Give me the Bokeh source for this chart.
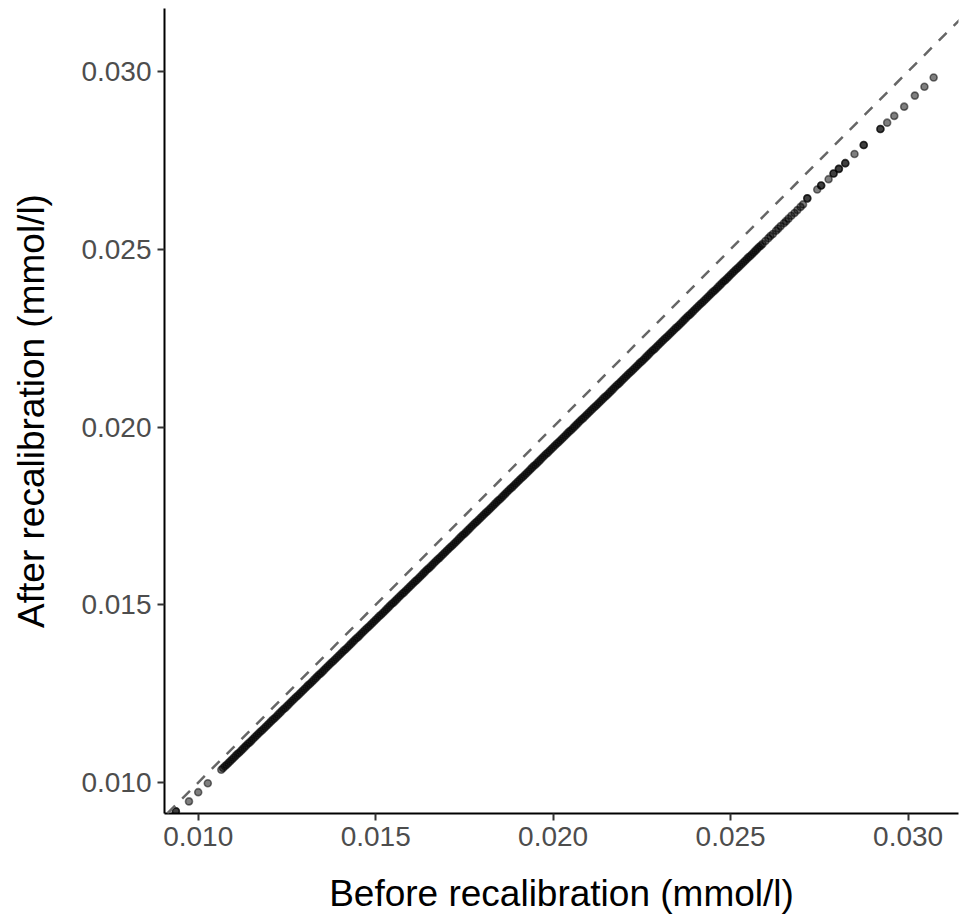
from bokeh.plotting import figure
from bokeh.models import Range1d, Slope, FixedTicker, ColumnDataSource
from bokeh.embed import file_html
from bokeh.resources import INLINE

x_title = "Before recalibration (mmol/l)"
y_title = "After recalibration (mmol/l)"
tick_values = [0.010, 0.015, 0.020, 0.025, 0.030]
tick_labels = ["0.010", "0.015", "0.020", "0.025", "0.030"]

# sparse points at the low end
low_before = [0.00925, 0.00937, 0.00937, 0.00974, 0.01000, 0.01027]
low_after = [0.00903, 0.00919, 0.00919, 0.00947, 0.00973, 0.00998]

# dense band
dense_before = [
    0.01065, 0.01070, 0.01075, 0.01080, 0.01085, 0.01090, 0.01095, 0.01100, 0.01105, 0.01110,
    0.01115, 0.01120, 0.01125, 0.01130, 0.01135, 0.01140, 0.01145, 0.01150, 0.01155, 0.01160,
    0.01165, 0.01170, 0.01175, 0.01180, 0.01185, 0.01190, 0.01195, 0.01200, 0.01205, 0.01210,
    0.01215, 0.01220, 0.01225, 0.01230, 0.01235, 0.01240, 0.01245, 0.01250, 0.01255, 0.01260,
    0.01265, 0.01270, 0.01275, 0.01280, 0.01285, 0.01290, 0.01295, 0.01300, 0.01305, 0.01310,
    0.01315, 0.01320, 0.01325, 0.01330, 0.01335, 0.01340, 0.01345, 0.01350, 0.01355, 0.01360,
    0.01365, 0.01370, 0.01375, 0.01380, 0.01385, 0.01390, 0.01395, 0.01400, 0.01405, 0.01410,
    0.01415, 0.01420, 0.01425, 0.01430, 0.01435, 0.01440, 0.01445, 0.01450, 0.01455, 0.01460,
    0.01465, 0.01470, 0.01475, 0.01480, 0.01485, 0.01490, 0.01495, 0.01500, 0.01505, 0.01510,
    0.01515, 0.01520, 0.01525, 0.01530, 0.01535, 0.01540, 0.01545, 0.01550, 0.01555, 0.01560,
    0.01565, 0.01570, 0.01575, 0.01580, 0.01585, 0.01590, 0.01595, 0.01600, 0.01605, 0.01610,
    0.01615, 0.01620, 0.01625, 0.01630, 0.01635, 0.01640, 0.01645, 0.01650, 0.01655, 0.01660,
    0.01665, 0.01670, 0.01675, 0.01680, 0.01685, 0.01690, 0.01695, 0.01700, 0.01705, 0.01710,
    0.01715, 0.01720, 0.01725, 0.01730, 0.01735, 0.01740, 0.01745, 0.01750, 0.01755, 0.01760,
    0.01765, 0.01770, 0.01775, 0.01780, 0.01785, 0.01790, 0.01795, 0.01800, 0.01805, 0.01810,
    0.01815, 0.01820, 0.01825, 0.01830, 0.01835, 0.01840, 0.01845, 0.01850, 0.01855, 0.01860,
    0.01865, 0.01870, 0.01875, 0.01880, 0.01885, 0.01890, 0.01895, 0.01900, 0.01905, 0.01910,
    0.01915, 0.01920, 0.01925, 0.01930, 0.01935, 0.01940, 0.01945, 0.01950, 0.01955, 0.01960,
    0.01965, 0.01970, 0.01975, 0.01980, 0.01985, 0.01990, 0.01995, 0.02000, 0.02005, 0.02010,
    0.02015, 0.02020, 0.02025, 0.02030, 0.02035, 0.02040, 0.02045, 0.02050, 0.02055, 0.02060,
    0.02065, 0.02070, 0.02075, 0.02080, 0.02085, 0.02090, 0.02095, 0.02100, 0.02105, 0.02110,
    0.02115, 0.02120, 0.02125, 0.02130, 0.02135, 0.02140, 0.02145, 0.02150, 0.02155, 0.02160,
    0.02165, 0.02170, 0.02175, 0.02180, 0.02185, 0.02190, 0.02195, 0.02200, 0.02205, 0.02210,
    0.02215, 0.02220, 0.02225, 0.02230, 0.02235, 0.02240, 0.02245, 0.02250, 0.02255, 0.02260,
    0.02265, 0.02270, 0.02275, 0.02280, 0.02285, 0.02290, 0.02295, 0.02300, 0.02305, 0.02310,
    0.02315, 0.02320, 0.02325, 0.02330, 0.02335, 0.02340, 0.02345, 0.02350, 0.02355, 0.02360,
    0.02365, 0.02370, 0.02375, 0.02380, 0.02385, 0.02390, 0.02395, 0.02400, 0.02405, 0.02410,
    0.02415, 0.02420, 0.02425, 0.02430, 0.02435, 0.02440, 0.02445, 0.02450, 0.02455, 0.02460,
    0.02465, 0.02470, 0.02475, 0.02480, 0.02485, 0.02490, 0.02495, 0.02500, 0.02505, 0.02510,
    0.02515, 0.02520, 0.02525, 0.02530, 0.02535, 0.02540, 0.02545, 0.02550, 0.02555, 0.02560,
    0.02565, 0.02570, 0.02575, 0.02580, 0.02585, 0.02590,
]
dense_after = [
    0.01036, 0.01041, 0.01046, 0.01050, 0.01055, 0.01060, 0.01065, 0.01070, 0.01075, 0.01080,
    0.01084, 0.01089, 0.01094, 0.01099, 0.01104, 0.01109, 0.01113, 0.01118, 0.01123, 0.01128,
    0.01133, 0.01138, 0.01143, 0.01147, 0.01152, 0.01157, 0.01162, 0.01167, 0.01172, 0.01177,
    0.01181, 0.01186, 0.01191, 0.01196, 0.01201, 0.01206, 0.01210, 0.01215, 0.01220, 0.01225,
    0.01230, 0.01235, 0.01240, 0.01244, 0.01249, 0.01254, 0.01259, 0.01264, 0.01269, 0.01274,
    0.01278, 0.01283, 0.01288, 0.01293, 0.01298, 0.01303, 0.01307, 0.01312, 0.01317, 0.01322,
    0.01327, 0.01332, 0.01337, 0.01341, 0.01346, 0.01351, 0.01356, 0.01361, 0.01366, 0.01371,
    0.01375, 0.01380, 0.01385, 0.01390, 0.01395, 0.01400, 0.01405, 0.01409, 0.01414, 0.01419,
    0.01424, 0.01429, 0.01434, 0.01438, 0.01443, 0.01448, 0.01453, 0.01458, 0.01463, 0.01468,
    0.01472, 0.01477, 0.01482, 0.01487, 0.01492, 0.01497, 0.01502, 0.01506, 0.01511, 0.01516,
    0.01521, 0.01526, 0.01531, 0.01535, 0.01540, 0.01545, 0.01550, 0.01555, 0.01560, 0.01565,
    0.01569, 0.01574, 0.01579, 0.01584, 0.01589, 0.01594, 0.01599, 0.01603, 0.01608, 0.01613,
    0.01618, 0.01623, 0.01628, 0.01632, 0.01637, 0.01642, 0.01647, 0.01652, 0.01657, 0.01662,
    0.01666, 0.01671, 0.01676, 0.01681, 0.01686, 0.01691, 0.01696, 0.01700, 0.01705, 0.01710,
    0.01715, 0.01720, 0.01725, 0.01730, 0.01734, 0.01739, 0.01744, 0.01749, 0.01754, 0.01759,
    0.01763, 0.01768, 0.01773, 0.01778, 0.01783, 0.01788, 0.01793, 0.01797, 0.01802, 0.01807,
    0.01812, 0.01817, 0.01822, 0.01827, 0.01831, 0.01836, 0.01841, 0.01846, 0.01851, 0.01856,
    0.01860, 0.01865, 0.01870, 0.01875, 0.01880, 0.01885, 0.01890, 0.01894, 0.01899, 0.01904,
    0.01909, 0.01914, 0.01919, 0.01924, 0.01928, 0.01933, 0.01938, 0.01943, 0.01948, 0.01953,
    0.01957, 0.01962, 0.01967, 0.01972, 0.01977, 0.01982, 0.01987, 0.01991, 0.01996, 0.02001,
    0.02006, 0.02011, 0.02016, 0.02021, 0.02025, 0.02030, 0.02035, 0.02040, 0.02045, 0.02050,
    0.02055, 0.02059, 0.02064, 0.02069, 0.02074, 0.02079, 0.02084, 0.02088, 0.02093, 0.02098,
    0.02103, 0.02108, 0.02113, 0.02118, 0.02122, 0.02127, 0.02132, 0.02137, 0.02142, 0.02147,
    0.02152, 0.02156, 0.02161, 0.02166, 0.02171, 0.02176, 0.02181, 0.02185, 0.02190, 0.02195,
    0.02200, 0.02205, 0.02210, 0.02215, 0.02219, 0.02224, 0.02229, 0.02234, 0.02239, 0.02244,
    0.02249, 0.02253, 0.02258, 0.02263, 0.02268, 0.02273, 0.02278, 0.02282, 0.02287, 0.02292,
    0.02297, 0.02302, 0.02307, 0.02312, 0.02316, 0.02321, 0.02326, 0.02331, 0.02336, 0.02341,
    0.02346, 0.02350, 0.02355, 0.02360, 0.02365, 0.02370, 0.02375, 0.02380, 0.02384, 0.02389,
    0.02394, 0.02399, 0.02404, 0.02409, 0.02413, 0.02418, 0.02423, 0.02428, 0.02433, 0.02438,
    0.02443, 0.02447, 0.02452, 0.02457, 0.02462, 0.02467, 0.02472, 0.02477, 0.02481, 0.02486,
    0.02491, 0.02496, 0.02501, 0.02506, 0.02510, 0.02515,
]

# thinning part of the band
mid_before = [0.02598, 0.02606, 0.02612, 0.02619, 0.02628, 0.02634, 0.02641, 0.02650,
              0.02656, 0.02663, 0.02671, 0.02680, 0.02688, 0.02697, 0.02704]
mid_after = [0.02523, 0.02531, 0.02537, 0.02543, 0.02552, 0.02558, 0.02565, 0.02573,
             0.02579, 0.02586, 0.02594, 0.02602, 0.02610, 0.02619, 0.02626]

# sparse points at the high end
high_before = [0.02716, 0.02716, 0.02744, 0.02755, 0.02755, 0.02776, 0.02790, 0.02790,
               0.02805, 0.02805, 0.02823, 0.02823, 0.02849, 0.02875, 0.02875, 0.02922,
               0.02922, 0.02941, 0.02961, 0.02989, 0.03019, 0.03046, 0.03072]
high_after = [0.02643, 0.02643, 0.02668, 0.02679, 0.02679, 0.02697, 0.02713, 0.02713,
              0.02726, 0.02726, 0.02742, 0.02742, 0.02768, 0.02793, 0.02793, 0.02838,
              0.02838, 0.02856, 0.02875, 0.02901, 0.02932, 0.02957, 0.02983]

before = low_before + dense_before + mid_before + high_before
after = low_after + dense_after + mid_after + high_after

FONT = "Liberation Sans"

p = figure(width=963, height=920, frame_width=794, frame_height=805,
           x_range=Range1d(0.00905, 0.03142), y_range=Range1d(0.00913, 0.03177),
           output_backend="svg", toolbar_location=None,
           min_border_left=164, min_border_right=5, min_border_top=8, min_border_bottom=107)
p.outline_line_color = None
p.background_fill_color = "white"
p.border_fill_color = "white"
p.xgrid.visible = False
p.ygrid.visible = False

src = ColumnDataSource(dict(before=before, after=after))
p.scatter("before", "after", source=src, size=7, marker="circle",
          fill_color="black", fill_alpha=0.5, line_color="black", line_alpha=0.5, line_width=1.6)

p.add_layout(Slope(gradient=1, y_intercept=0, line_color="#666666", line_width=2.5,
                   line_dash="11 10"))

for ax in (p.xaxis[0], p.yaxis[0]):
    ax.ticker = FixedTicker(ticks=tick_values)
    ax.major_label_overrides = {v: l for v, l in zip(tick_values, tick_labels)}
    ax.axis_line_color = "black"
    ax.axis_line_width = 2
    ax.major_tick_line_color = "#333333"
    ax.major_tick_line_width = 2
    ax.major_tick_out = 7
    ax.major_tick_in = 0
    ax.minor_tick_line_color = None
    ax.major_label_text_font = FONT
    ax.major_label_text_font_size = "28px"
    ax.major_label_text_color = "#4D4D4D"
    ax.major_label_standoff = 6
    ax.axis_label_text_font = FONT
    ax.axis_label_text_font_size = "37px"
    ax.axis_label_text_font_style = "normal"
    ax.axis_label_text_color = "black"

p.xaxis[0].axis_label = x_title
p.yaxis[0].axis_label = y_title
p.xaxis[0].axis_label_standoff = 24
p.yaxis[0].axis_label_standoff = 26

open("out.html", "w").write(file_html(p, INLINE))
